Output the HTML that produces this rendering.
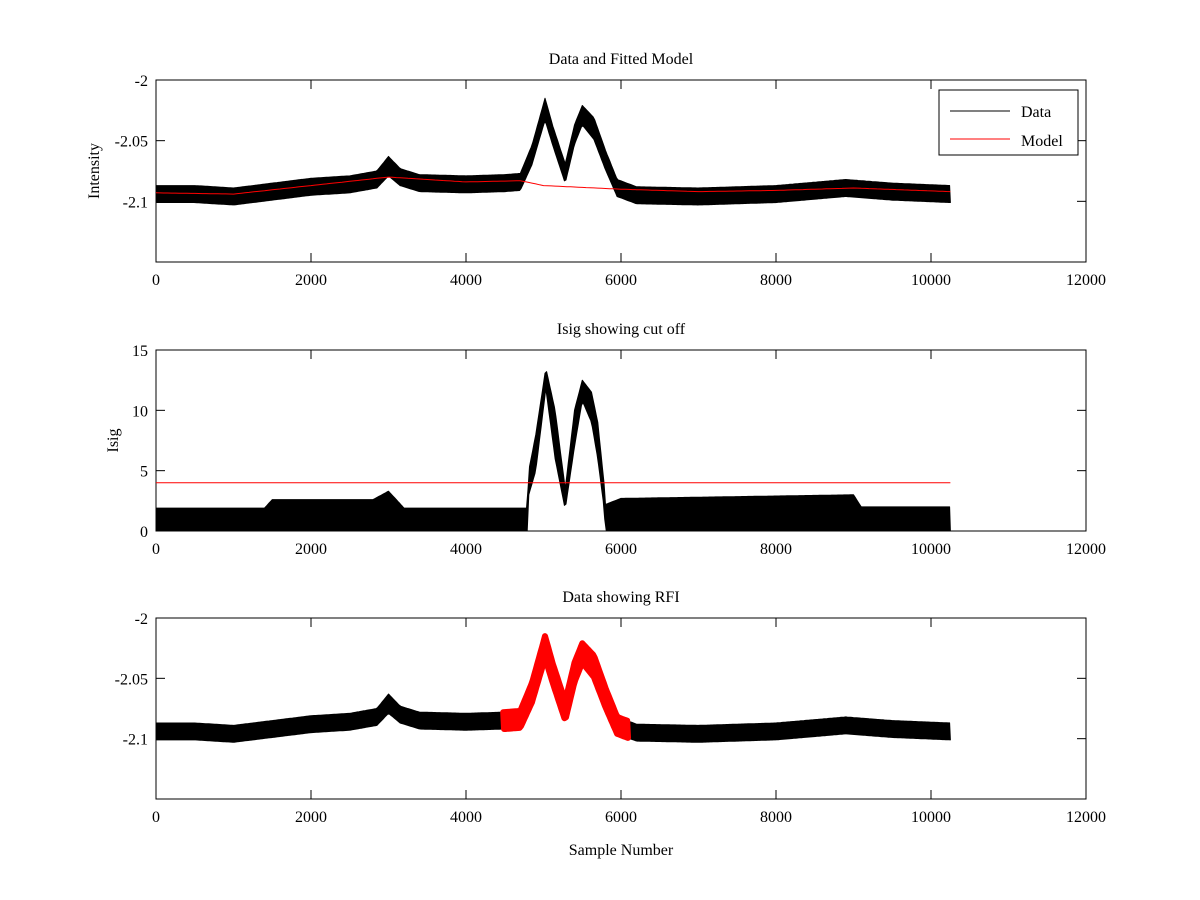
<!DOCTYPE html>
<html><head><meta charset="utf-8"><style>
html,body{margin:0;padding:0;background:#fff;}
svg{display:block;font-family:"Liberation Serif",serif;}
</style></head><body>
<svg id="fig" width="1200" height="900" xmlns="http://www.w3.org/2000/svg"></svg>
<script>
// ---- data ----
const sampleX =        [0,500,1000,1500,2000,2500,2850,3000,3150,3400,4000,4500,4700,4850,5020,5120,5280,5400,5500,5650,5800,5950,6200,7000,8000,8900,9500,10250];
const intensityMean =  [-2.094,-2.094,-2.096,-2.092,-2.088,-2.086,-2.082,-2.071,-2.080,-2.085,-2.086,-2.085,-2.084,-2.062,-2.024,-2.046,-2.077,-2.045,-2.029,-2.040,-2.066,-2.089,-2.095,-2.096,-2.094,-2.089,-2.092,-2.094];
const intensityNoise = [0.007,0.007,0.007,0.007,0.007,0.007,0.007,0.008,0.007,0.007,0.007,0.007,0.007,0.008,0.009,0.008,0.008,0.008,0.008,0.009,0.008,0.007,0.007,0.007,0.007,0.007,0.007,0.007];
const modelX =         [0,1000,2000,3000,4000,4700,5000,6000,7000,8000,9000,10250];
const modelValues =    [-2.093,-2.094,-2.087,-2.080,-2.084,-2.083,-2.087,-2.090,-2.092,-2.091,-2.089,-2.092];
const isigX =     [0,1400,1500,2800,3000,3200,4790,4810,4900,5030,5150,5280,5400,5500,5620,5700,5780,5800,6000,9000,9100,10250];
const isigLower = [0,0,0,0,0,0,0,3,5,11.8,6,1.8,7,10.8,9,6,2,0,0,0,0,0];
const isigUpper = [1.9,1.9,2.6,2.6,3.3,1.9,1.9,5,8,13.5,10,3.5,10,12.5,11.5,9,4,2.2,2.7,3.0,2.0,2.0];
const cutoff = 4;
const rfiRange = [4480, 6090];
const xTicks = [0,2000,4000,6000,8000,10000,12000];
const intensityTicks = [-2,-2.05,-2.1];
const isigTicks = [0,5,10,15];
const dataEnd = 10250;

const NS="http://www.w3.org/2000/svg";
const svg=document.getElementById('fig');
function mk(tag,attrs,parent){const e=document.createElementNS(NS,tag);for(const k in attrs)e.setAttribute(k,attrs[k]);(parent||svg).appendChild(e);return e;}
const X0=156,X1=1086;
const sx=v=>X0+(v/12000)*(X1-X0);
function interp(xs,ys,x){for(let i=0;i<xs.length-1;i++){if(x>=xs[i]&&x<=xs[i+1]){const t=(x-xs[i])/(xs[i+1]-xs[i]);return ys[i]+t*(ys[i+1]-ys[i]);}}return ys[ys.length-1];}

function axes(name,top,bot,ymin,ymax,yticks,title,ylabel,xlabel){
  const g=mk('g',{});
  
  
  const sy=v=>bot-(v-ymin)/(ymax-ymin)*(bot-top);
  const r=mk('rect',{x:X0,y:top,width:X1-X0,height:bot-top,fill:'none',stroke:'#000','stroke-width':1},g);
  
  
  xTicks.forEach(t=>{const x=sx(t);
    mk('line',{x1:x,x2:x,y1:bot,y2:bot-9,stroke:'#000'},g);
    mk('line',{x1:x,x2:x,y1:top,y2:top+9,stroke:'#000'},g);
    const tx=mk('text',{x:x,y:bot+23,'text-anchor':'middle','font-size':16},g);tx.textContent=t;
    
    });
  yticks.forEach(t=>{const y=sy(t);
    mk('line',{x1:X0,x2:X0+9,y1:y,y2:y,stroke:'#000'},g);
    mk('line',{x1:X1,x2:X1-9,y1:y,y2:y,stroke:'#000'},g);
    const tx=mk('text',{x:X0-8,y:y+6,'text-anchor':'end','font-size':16},g);tx.textContent=t;
    
    });
  const tt=mk('text',{x:(X0+X1)/2,y:top-16,'text-anchor':'middle','font-size':16},g);tt.textContent=title;
  
  
  if(ylabel){const yl=mk('text',{x:0,y:0,'text-anchor':'middle','font-size':16,transform:`translate(${ylabel[1]},${(top+bot)/2}) rotate(-90)`},g);yl.textContent=ylabel[0];
    
    }
  if(xlabel){const xl=mk('text',{x:(X0+X1)/2,y:bot+56,'text-anchor':'middle','font-size':16},g);xl.textContent=xlabel;
    
    }
  return {g,sy};
}
function band(g,xs,lo,hi,sy,fill,from,to,sw){
  const pts=[],step=20;
  for(let x=from;x<=to;x+=step)pts.push([sx(x),sy(interp(xs,hi,x))]);
  for(let x=to;x>=from;x-=step)pts.push([sx(x),sy(interp(xs,lo,x))]);
  return mk('polygon',{points:pts.map(p=>p[0].toFixed(1)+','+p[1].toFixed(1)).join(' '),fill:fill,stroke:fill,'stroke-width':sw||1,'stroke-linejoin':'round'},g);
}
function line(g,xs,ys,sy,color,to){
  const pts=[];for(let x=0;x<=to;x+=50)pts.push(sx(x).toFixed(1)+','+sy(interp(xs,ys,x)).toFixed(1));
  return mk('polyline',{points:pts.join(' '),fill:'none',stroke:color,'stroke-width':1},g);
}
const lo=intensityMean.map((m,i)=>m-intensityNoise[i]);
const hi=intensityMean.map((m,i)=>m+intensityNoise[i]);

// Panel 1
const a1=axes('data-model-axes',80,262,-2.15,-2,intensityTicks,'Data and Fitted Model',['Intensity',99],null);
const d1=band(a1.g,sampleX,lo,hi,a1.sy,'#000',0,dataEnd);


const m1=line(a1.g,modelX,modelValues,a1.sy,'#f00',dataEnd);


const lg=mk('g',{},a1.g);


mk('rect',{x:939,y:90,width:139,height:65,fill:'#fff',stroke:'#000'},lg);
mk('line',{x1:950,x2:1010,y1:111,y2:111,stroke:'#000'},lg);
mk('line',{x1:950,x2:1010,y1:139,y2:139,stroke:'#f00'},lg);
const l1=mk('text',{x:1021,y:117,'font-size':16},lg);l1.textContent='Data';


const l2=mk('text',{x:1021,y:146,'font-size':16},lg);l2.textContent='Model';



// Panel 2
const a2=axes('isig-axes',350,531,0,15,isigTicks,'Isig showing cut off',['Isig',118],null);
const d2=band(a2.g,isigX,isigLower,isigUpper,a2.sy,'#000',0,dataEnd);


const c2=mk('line',{x1:sx(0),x2:sx(dataEnd),y1:a2.sy(cutoff),y2:a2.sy(cutoff),stroke:'#f00'},a2.g);



// Panel 3
const a3=axes('rfi-axes',618,799,-2.15,-2,intensityTicks,'Data showing RFI',null,'Sample Number');
const d3=band(a3.g,sampleX,lo,hi,a3.sy,'#000',0,dataEnd);


const r3=band(a3.g,sampleX,lo,hi,a3.sy,'#f00',rfiRange[0],rfiRange[1],6);


</script>
</body></html>
